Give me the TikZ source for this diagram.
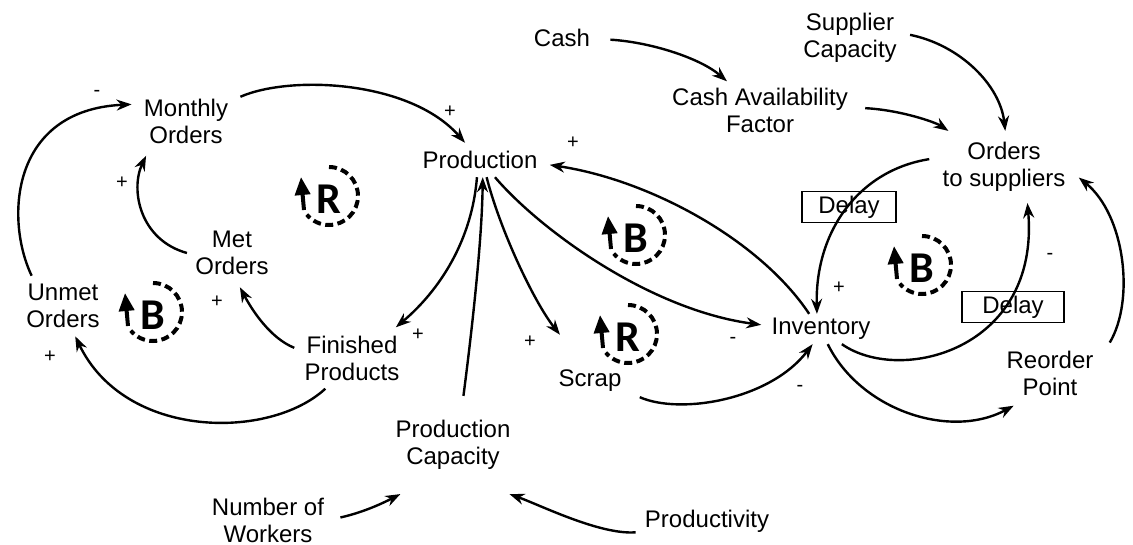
\documentclass[tikz,border=0pt]{standalone}
\usepackage{fontspec}
\setmainfont{Liberation Sans}
\newfontfamily\loopletterfont{Carlito}
\usetikzlibrary{arrows.meta}
% loop marker: dashed circle with an upward arrow and a bold letter
\tikzset{
  loopmark/.pic={
    \draw[line width=2pt, dash pattern=on 4pt off 2.2pt]
      (90:14.5pt) arc[start angle=90, end angle=-140, radius=14.5pt];
    \draw[line width=2pt, -{Triangle[length=9pt, width=7.5pt]}]
      (-12.5pt,-7pt) -- (-14pt,9.5pt);
    \node[font=\loopletterfont\bfseries\fontsize{22}{22}\selectfont, inner sep=0pt]
      (-letter) at (0,-1.5pt) {#1};
  }
}
\begin{document}
\begin{tikzpicture}[x=0.5pt, y=-0.5pt,
  var/.style={font=\fontsize{12}{13.5}\selectfont, align=center},
  link/.style={line width=1.2pt, -{Stealth[length=7.5pt, width=5.5pt]}},
  sign/.style={font=\fontsize{10}{10}\selectfont, inner sep=0pt},
  delaybox/.style={draw, line width=0.75pt, font=\fontsize{12}{13.5}\selectfont,
                   minimum height=15.5pt, inner sep=0pt}
]
\fill[white] (0,0) rectangle (1133,545);
\useasboundingbox (0,0) rectangle (1133,545);

% variables
\node[var, inner xsep=1pt,   inner ysep=4pt]    (unmet)        at (63,306)   {Unmet\\Orders};
\node[var, inner sep=6pt]                        (monthly)      at (186,121)  {Monthly\\Orders};
\node[var, inner xsep=4pt,   inner ysep=6pt]    (met)          at (232,253)  {Met\\Orders};
\node[var, inner xsep=5pt,   inner ysep=4pt]    (finished)     at (352,358)  {Finished\\Products};
\node[var, inner xsep=6pt,   inner ysep=4pt]    (production)   at (480,160)  {Production};
\node[var, inner xsep=2pt,   inner ysep=12pt]   (capacity)     at (453,445)  {Production\\Capacity};
\node[var, inner xsep=8pt,   inner ysep=1pt]    (workers)      at (268,520)  {Number of\\Workers};
\node[var, inner xsep=4.5pt, inner ysep=3pt]    (productivity) at (707,521)  {Productivity};
\node[var, inner xsep=9pt,   inner ysep=17.5pt] (scrap)        at (590,381)  {Scrap};
\node[var, inner xsep=5pt,   inner ysep=2pt]    (inventory)    at (821,329)  {Inventory};
\node[var, inner xsep=8pt,   inner ysep=5pt]    (reorder)      at (1050,373) {Reorder\\Point};
\node[var, inner xsep=6.5pt, inner ysep=5.5pt]  (orders)       at (1004,167) {Orders\\to suppliers};
\node[var, inner xsep=8.5pt, inner ysep=3pt]    (cashavail)    at (760,110)  {Cash Availability\\Factor};
\node[var, inner xsep=10pt,  inner ysep=1pt]    (cash)         at (562,38)   {Cash};
\node[var, inner xsep=6.5pt, inner ysep=1pt]    (supplier)     at (850,38)   {Supplier\\Capacity};

% delay marks
\node[delaybox, minimum width=47pt] (delay1) at (849,207)  {Delay};
\node[delaybox, minimum width=51pt] (delay2) at (1013,307) {Delay};

% causal links
\draw[link] (unmet.136) .. controls (5,220) and (10,110) .. (monthly.163);
\draw[link] (monthly.24) .. controls (290,75) and (410,80) .. (production.131);
\draw[link] (met.180) .. controls (140,240) and (130,190) .. (monthly.221);
\draw[link] (finished.170) .. controls (270,338) and (252,310) .. (met.283);
\draw[link] (finished.229) .. controls (270,440) and (125,440) .. (unmet.292);
\draw[link] (production.260) .. controls (472,240) and (440,290) .. (finished.35);
\draw[link] (capacity.78) .. controls (472,330) and (482,240) .. (production.279);
\draw[link] (production.291) .. controls (500,230) and (534,302) .. (scrap.123);
\draw[link] (production.311) .. controls (540,230) and (650,310) .. (inventory.176);
\draw[link] (inventory.128) .. controls (760,240) and (650,180) .. (production.356);
\draw[link] (scrap.342) .. controls (680,415) and (770,400) .. (inventory.241);
\draw[link] (inventory.294) .. controls (860,410) and (950,440) .. (reorder.222);
\draw[link] (inventory.324) .. controls (900,385) and (1040,350) .. (orders.303);
\draw[link] (orders.174) .. controls (860,170) and (815,230) .. (inventory.105);
\draw[link] (reorder.27) .. controls (1135,300) and (1125,215) .. (orders.352);
\draw[link] (cash.358) .. controls (650,42) and (700,58) .. (cashavail.139);
\draw[link] (cashavail.1) .. controls (900,110) and (935,122) .. (orders.147);
\draw[link] (supplier.3) .. controls (960,45) and (1000,85) .. (orders.88);
\draw[link] (workers.2) .. controls (365,512) and (385,502) .. (capacity.223);
\draw[link] (productivity.189) .. controls (600,535) and (540,505) .. (capacity.319);

% polarities
\node[sign] (s1)  at (97,93)   {-};
\node[sign] (s2)  at (122,183) {+};
\node[sign] (s3)  at (450,112) {+};
\node[sign] (s4)  at (573,143) {+};
\node[sign] (s5)  at (217,302) {+};
\node[sign] (s6)  at (50,357)  {+};
\node[sign] (s7)  at (418,335) {+};
\node[sign] (s8)  at (530,342) {+};
\node[sign] (s9)  at (733,340) {-};
\node[sign] (s10) at (800,388) {-};
\node[sign] (s11) at (839,288) {+};
\node[sign] (s12) at (1050,256) {-};

% loop markers
\pic (loopr1) at (329,196) {loopmark=R};
\pic (loopb1) at (153,312) {loopmark=B};
\pic (loopb2) at (636,235) {loopmark=B};
\pic (loopr2) at (628,334) {loopmark=R};
\pic (loopb3) at (922,265) {loopmark=B};
\end{tikzpicture}
\end{document}
